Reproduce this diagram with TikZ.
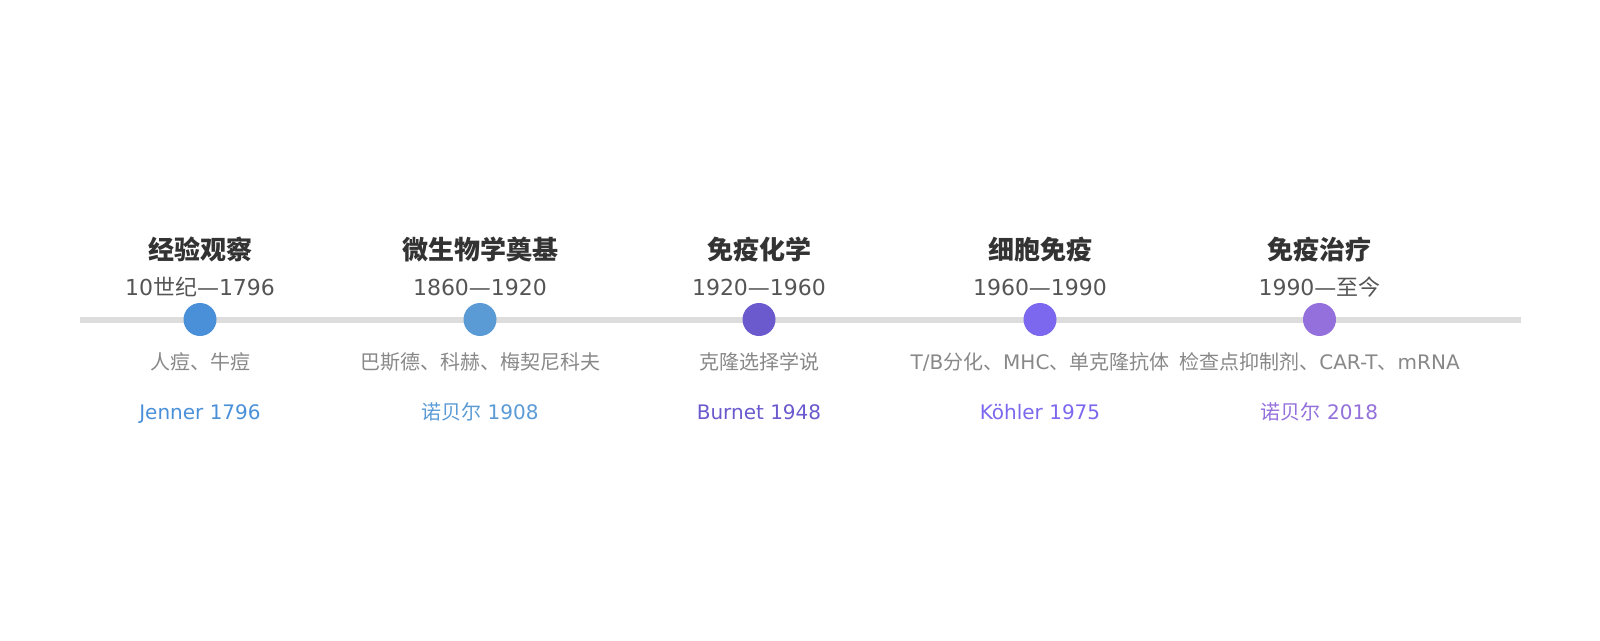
\documentclass[tikz,border=0pt]{standalone}
\usepackage{fontspec}
\setmainfont{DejaVu Sans}
\newfontfamily\cjk{Noto Sans CJK SC}
\newcommand{\zh}[1]{{\cjk #1}}
\definecolor{cA}{HTML}{4A90D9}
\definecolor{cB}{HTML}{5B9BD5}
\definecolor{cC}{HTML}{6A5ACD}
\definecolor{cD}{HTML}{7B68EE}
\definecolor{cE}{HTML}{9370DB}
\definecolor{ctitle}{HTML}{333333}
\definecolor{cdate}{HTML}{555555}
\definecolor{cdesc}{HTML}{888888}
\definecolor{cline}{HTML}{DDDDDD}
\tikzset{
  x=1pt,y=-1pt,
  dot/.style={circle,inner sep=0pt,minimum size=33pt},
  ttl/.style={anchor=base,inner sep=0pt,text=ctitle,font=\cjk\bfseries\fontsize{26}{30}\selectfont},
  dte/.style={anchor=base,inner sep=0pt,text=cdate,font=\fontsize{22}{26}\selectfont},
  dsc/.style={anchor=base,inner sep=0pt,text=cdesc,font=\fontsize{20}{24}\selectfont},
  lbl/.style={anchor=base,inner sep=0pt,font=\fontsize{20}{24}\selectfont},
}
\begin{document}
\begin{tikzpicture}
\useasboundingbox (0,0) rectangle (1600,640);
\coordinate (L) at (80,319.5);
\coordinate (R) at (1520.5,319.5);
\draw[cline,line width=6pt] (L) -- (R);
% dots
\node[dot,fill=cA] (d1) at (200,319.5) {};
\node[dot,fill=cB] (d2) at (480,319.5) {};
\node[dot,fill=cC] (d3) at (759,319.5) {};
\node[dot,fill=cD] (d4) at (1040,319.5) {};
\node[dot,fill=cE] (d5) at (1319.5,319.5) {};
% titles
\node[ttl] (t1) at (200,259.5) {经验观察};
\node[ttl] (t2) at (480,259.5) {微生物学奠基};
\node[ttl] (t3) at (759,259.5) {免疫化学};
\node[ttl] (t4) at (1040,259.5) {细胞免疫};
\node[ttl] (t5) at (1319.5,259.5) {免疫治疗};
% dates
\node[dte] (a1) at (200,295.5) {10\zh{世纪}—1796};
\node[dte] (a2) at (480,295.5) {1860—1920};
\node[dte] (a3) at (759,295.5) {1920—1960};
\node[dte] (a4) at (1040,295.5) {1960—1990};
\node[dte] (a5) at (1319.5,295.5) {1990—\zh{至今}};
% descriptions
\node[dsc] (s1) at (200,369.5) {\zh{人痘、牛痘}};
\node[dsc] (s2) at (480,369.5) {\zh{巴斯德、科赫、梅契尼科夫}};
\node[dsc] (s3) at (759,369.5) {\zh{克隆选择学说}};
\node[dsc] (s4) at (1040,369.5) {T/B\zh{分化、}MHC\zh{、单克隆抗体}};
\node[dsc] (s5) at (1319.5,369.5) {\zh{检查点抑制剂、}CAR-T\zh{、}mRNA};
% labels
\node[lbl,text=cA] (l1) at (200,419.5) {Jenner 1796};
\node[lbl,text=cB] (l2) at (480,419.5) {\zh{诺贝尔} 1908};
\node[lbl,text=cC] (l3) at (759,419.5) {Burnet 1948};
\node[lbl,text=cD] (l4) at (1040,419.5) {Köhler 1975};
\node[lbl,text=cE] (l5) at (1319.5,419.5) {\zh{诺贝尔} 2018};
\end{tikzpicture}
\end{document}
